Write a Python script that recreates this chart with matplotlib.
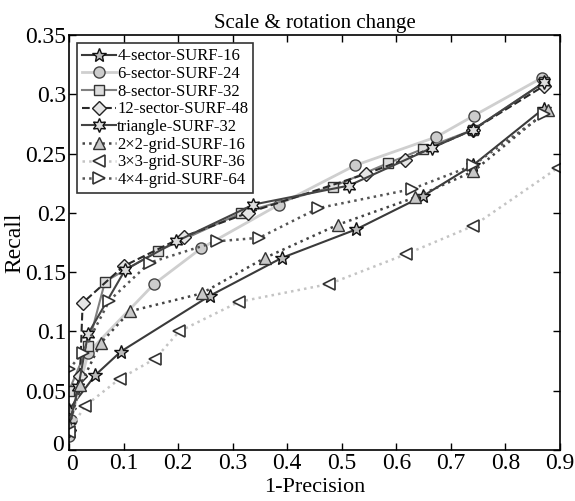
import matplotlib
matplotlib.use("Agg")
import matplotlib.pyplot as plt
import matplotlib.transforms as mtransforms

# Recall / 1-Precision curves
x_4sec = [0.0, 0.048, 0.095, 0.258, 0.39, 0.526, 0.648, 0.74, 0.87]
y_4sec = [0.034, 0.063, 0.083, 0.130, 0.162, 0.186, 0.214, 0.240, 0.288]

x_6sec = [0.0, 0.004, 0.035, 0.156, 0.242, 0.385, 0.524, 0.673, 0.742, 0.867]
y_6sec = [0.012, 0.025, 0.082, 0.140, 0.170, 0.207, 0.240, 0.264, 0.282, 0.314]

x_8sec = [0.0, 0.035, 0.066, 0.164, 0.316, 0.483, 0.585, 0.649, 0.74, 0.87]
y_8sec = [0.050, 0.088, 0.142, 0.168, 0.200, 0.222, 0.242, 0.254, 0.270, 0.310]

x_12sec = [0.0, 0.02, 0.025, 0.10, 0.21, 0.328, 0.545, 0.615, 0.74, 0.87]
y_12sec = [0.017, 0.062, 0.124, 0.155, 0.180, 0.200, 0.233, 0.245, 0.270, 0.307]

x_tri = [0.0, 0.017, 0.035, 0.103, 0.197, 0.338, 0.513, 0.666, 0.74, 0.87]
y_tri = [0.020, 0.053, 0.098, 0.152, 0.176, 0.207, 0.223, 0.255, 0.270, 0.310]

x_g2 = [0.0, 0.021, 0.058, 0.112, 0.243, 0.359, 0.493, 0.634, 0.741, 0.878]
y_g2 = [0.020, 0.055, 0.090, 0.117, 0.132, 0.162, 0.190, 0.213, 0.235, 0.287]

x_g3 = [0.0, 0.029, 0.093, 0.158, 0.202, 0.312, 0.477, 0.617, 0.741, 0.896]
y_g3 = [0.015, 0.037, 0.060, 0.077, 0.100, 0.125, 0.140, 0.165, 0.189, 0.238]

x_g4 = [0.0, 0.025, 0.074, 0.148, 0.272, 0.349, 0.457, 0.628, 0.74, 0.87]
y_g4 = [0.068, 0.082, 0.126, 0.158, 0.176, 0.179, 0.204, 0.220, 0.240, 0.283]

labels = ['4-sector-SURF-16', '6-sector-SURF-24', '8-sector-SURF-32',
          '12-sector-SURF-48', 'triangle-SURF-32', '2×2-grid-SURF-16',
          '3×3-grid-SURF-36', '4×4-grid-SURF-64']

plt.rcParams['font.family'] = ['Liberation Serif', 'DejaVu Serif']

fig = plt.figure(figsize=(5.75, 5.01), dpi=100)
ax = fig.add_axes([0.12, 0.102, 0.854, 0.828])

hexagram = (6, 1, 0)

ax.plot(x_4sec, y_4sec, '-', color='#3a3a3a', lw=1.5, marker='*', ms=10,
        mfc='#bbbbbb', mec='#111111', mew=1.0, label=labels[0])
ax.plot(x_6sec, y_6sec, '-', color='#cfcfcf', lw=2.0, marker='o', ms=8,
        mfc='#cccccc', mec='#444444', mew=1.0, label=labels[1])
ax.plot(x_8sec, y_8sec, '-', color='#808080', lw=1.5, marker='s', ms=7,
        mfc='#dddddd', mec='#333333', mew=1.0, label=labels[2])
ax.plot(x_12sec, y_12sec, '--', color='#2a2a2a', lw=1.5, marker='D', ms=7,
        mfc='#e5e5e5', mec='#222222', mew=1.0, label=labels[3])
ax.plot(x_tri, y_tri, '-', color='#444444', lw=1.5, marker=hexagram, ms=10,
        mfc='#dddddd', mec='#111111', mew=1.0, label=labels[4])
ax.plot(x_g2, y_g2, ':', color='#444444', lw=1.8, marker='^', ms=9,
        mfc='#c8c8c8', mec='#333333', mew=1.0, label=labels[5])
ax.plot(x_g3, y_g3, ':', color='#c4c4c4', lw=1.8, marker='<', ms=9,
        mfc='white', mec='#333333', mew=1.2, label=labels[6])
ax.plot(x_g4, y_g4, ':', color='#555555', lw=1.8, marker='>', ms=9,
        mfc='white', mec='#333333', mew=1.2, label=labels[7])

ax.set_xlim(0, 0.9)
ax.set_ylim(0, 0.35)
ax.set_xticks([0, 0.1, 0.2, 0.3, 0.4, 0.5, 0.6, 0.7, 0.8, 0.9])
ax.set_xticklabels(['0', '0.1', '0.2', '0.3', '0.4', '0.5', '0.6', '0.7', '0.8', '0.9'])
ax.set_yticks([0, 0.05, 0.1, 0.15, 0.2, 0.25, 0.3, 0.35])
ax.set_yticklabels(['0', '0.05', '0.1', '0.15', '0.2', '0.25', '0.3', '0.35'])
ax.tick_params(direction='in', top=True, right=True, labelsize=17, length=5, width=1,
               pad=2)
for s in ax.spines.values():
    s.set_linewidth(1.2)

# nudge the corner "0" labels apart, as in the original
lab0 = ax.get_yticklabels()[0]
lab0.set_transform(lab0.get_transform() +
                   mtransforms.ScaledTranslation(-2 / 72, 5 / 72, fig.dpi_scale_trans))
labx0 = ax.get_xticklabels()[0]
labx0.set_transform(labx0.get_transform() +
                    mtransforms.ScaledTranslation(2 / 72, -1 / 72, fig.dpi_scale_trans))

ax.set_title('Scale & rotation change', fontsize=15, pad=5)
ax.set_xlabel('1-Precision', fontsize=16, labelpad=2)
ax.set_ylabel('Recall', fontsize=17, labelpad=0)

leg = ax.legend(loc='upper left', fontsize=12, frameon=True, fancybox=False,
                edgecolor='black', handlelength=2.0, handletextpad=0.1,
                labelspacing=0.1, borderpad=0.3, borderaxespad=0.5)
leg.get_frame().set_linewidth(1.2)

fig.savefig('out.png', dpi=100)
